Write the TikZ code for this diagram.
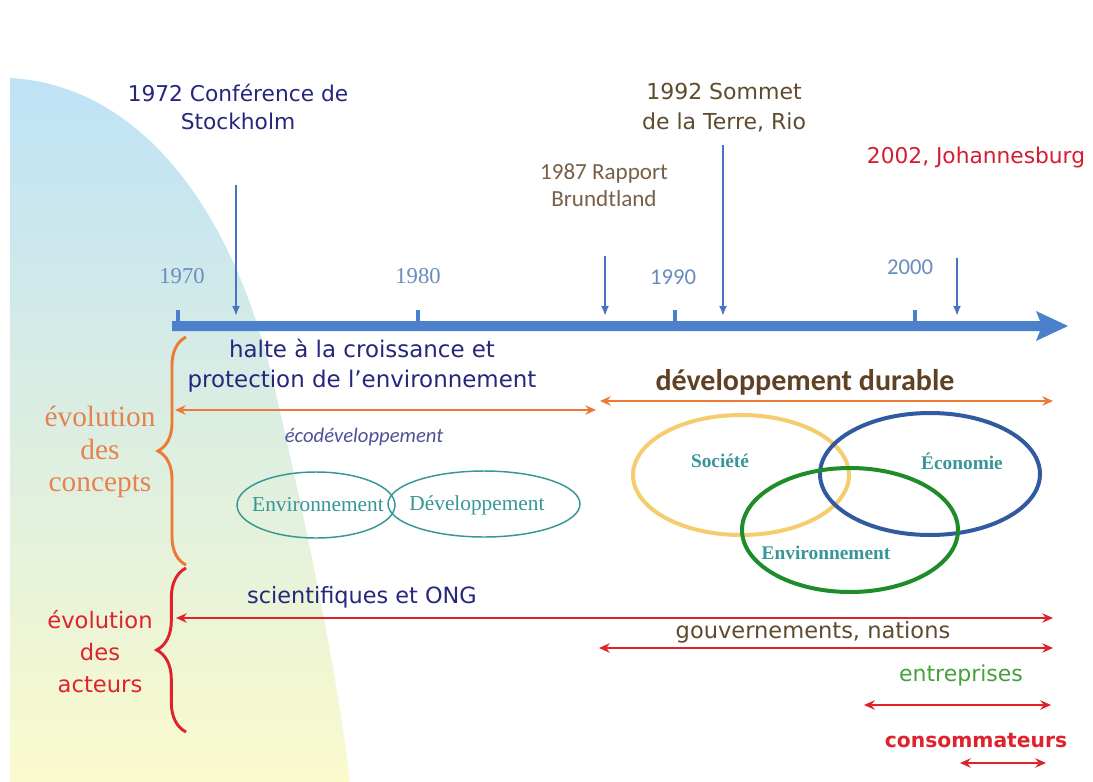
\documentclass[tikz,border=0pt]{standalone}
\usepackage{fontspec}
\setmainfont{DejaVu Sans}
\newfontfamily\seriff{Liberation Serif}
\newfontfamily\calib{Carlito}
\usetikzlibrary{arrows.meta,decorations.pathreplacing}

\definecolor{navy}{RGB}{38,38,125}
\definecolor{riobrown}{RGB}{95,75,45}
\definecolor{brbrown}{RGB}{120,95,72}
\definecolor{jored}{RGB}{215,28,50}
\definecolor{ticklbl}{RGB}{105,140,190}
\definecolor{axisblue}{RGB}{75,128,205}
\definecolor{evblue}{RGB}{70,115,195}
\definecolor{orangec}{RGB}{236,122,50}
\definecolor{orangetxt}{RGB}{230,130,80}
\definecolor{tealc}{RGB}{55,150,150}
\definecolor{ellyellow}{RGB}{245,205,110}
\definecolor{ellblue}{RGB}{50,90,160}
\definecolor{ellgreen}{RGB}{30,140,40}
\definecolor{redc}{RGB}{222,35,45}
\definecolor{ddbrown}{RGB}{95,65,35}
\definecolor{entgreen}{RGB}{70,160,60}
\definecolor{bgtop}{RGB}{190,226,246}
\definecolor{bgmid}{RGB}{222,241,230}
\definecolor{bgbot}{RGB}{250,250,205}

\tikzset{
  evarrow/.style={draw=evblue, line width=1.9pt, -{Latex[length=7.5pt,width=6pt]}},
  orangearrow/.style={draw=orangec, line width=1.9pt, {Stealth[length=8pt,width=7pt]}-{Stealth[length=8pt,width=7pt]}},
  redarrow/.style={draw=redc, line width=1.7pt, {Stealth[length=8pt,width=7pt]}-{Stealth[length=8pt,width=7pt]}},
  tickmark/.style={fill=axisblue},
  ticklabel/.style={text=ticklbl, inner sep=0pt},
  bracestyle/.style={line width=2.2pt, decorate},
  lbl/.style={inner sep=0pt, align=center},
  ellthin/.style={draw=tealc, line width=1.1pt},
  ellthick/.style={line width=3pt},
}

\begin{document}
\begin{tikzpicture}[x=0.75pt,y=-0.75pt]
  \useasboundingbox (0,0) rectangle (1093,782);
  \fill[white] (0,0) rectangle (1093,782);

  % soft backdrop on the left
  \shade[top color=bgtop, middle color=bgmid, bottom color=bgbot]
    (10,782) -- (10,78) .. controls (140,85) and (235,210) .. (275,390)
    .. controls (310,540) and (338,680) .. (350,782) -- cycle;

  % time axis
  \fill[axisblue] (172,321) -- (1040,321) -- (1036,311) -- (1068,326)
    -- (1036,341) -- (1040,331) -- (172,331) -- cycle;
  \foreach \name/\xx in {t70/178, t80/418, t90/675, t00/915} {
    \fill[tickmark] (\xx-2,310) rectangle (\xx+2,322);
    \coordinate (\name) at (\xx,310);
  }
  \node[ticklabel, font=\seriff\fontsize{17}{20}\selectfont] (l70) at (182,276) {1970};
  \node[ticklabel, font=\seriff\fontsize{17}{20}\selectfont] (l80) at (418,276) {1980};
  \node[ticklabel, font=\calib\fontsize{17}{20}\selectfont] (l90) at (673,277) {1990};
  \node[ticklabel, font=\calib\fontsize{17}{20}\selectfont] (l00) at (910,267) {2000};

  % events
  \node[lbl, text=navy, font=\fontsize{16.3}{21.5}\selectfont] (stock) at (238,107)
    {1972 Conférence de\\Stockholm};
  \node[lbl, text=riobrown, font=\fontsize{16.5}{22.5}\selectfont] (rio) at (724,108)
    {1992 Sommet\\de la Terre, Rio};
  \node[lbl, text=brbrown, font=\calib\fontsize{17.3}{20.5}\selectfont] (brundt) at (604,185)
    {1987 Rapport\\Brundtland};
  \node[lbl, text=jored, font=\fontsize{16.3}{20}\selectfont] (joh) at (976,158)
    {2002, Johannesburg};

  \coordinate (e72s) at (236,185);  \coordinate (e72e) at (236,316);
  \coordinate (e87s) at (605,256);  \coordinate (e87e) at (605,316);
  \coordinate (e92s) at (723,145);  \coordinate (e92e) at (723,316);
  \coordinate (e02s) at (957,258);  \coordinate (e02e) at (957,316);
  \draw[evarrow] (e72s) -- (e72e);
  \draw[evarrow] (e87s) -- (e87e);
  \draw[evarrow] (e92s) -- (e92e);
  \draw[evarrow] (e02s) -- (e02e);

  % concepts
  \node[lbl, text=orangetxt, font=\seriff\fontsize{22}{24.5}\selectfont] (evc) at (100,452)
    {évolution\\des\\concepts};
  \draw[orangec, bracestyle, decoration={brace, amplitude=21pt}] (186,565) -- (186,337);

  \node[lbl, text=navy, font=\fontsize{17.2}{22.5}\selectfont] (halte) at (362,366)
    {halte à la croissance et\\protection de l’environnement};
  \coordinate (c1a) at (175,410); \coordinate (c1b) at (596,410);
  \draw[orangearrow] (c1a) -- (c1b);
  \node[lbl, text=navy!80, font=\calib\itshape\fontsize{15.5}{16}\selectfont] (eco) at (364,437)
    {écodéveloppement};

  \draw[ellthin] (316,505) ellipse [x radius=79, y radius=33];
  \draw[ellthin] (484,504) ellipse [x radius=96, y radius=33];
  \node[lbl, text=tealc, font=\seriff\fontsize{16}{18}\selectfont] (envA) at (318,505) {Environnement};
  \node[lbl, text=tealc, font=\seriff\fontsize{16}{18}\selectfont] (devA) at (477,505) {Développement};

  \node[lbl, text=ddbrown, font=\calib\bfseries\fontsize{22.5}{24}\selectfont] (dd) at (805,382)
    {développement durable};
  \coordinate (c2a) at (600,401); \coordinate (c2b) at (1053,401);
  \draw[orangearrow] (c2a) -- (c2b);

  \draw[ellyellow, ellthick] (741,475) ellipse [x radius=108, y radius=60];
  \draw[ellblue, ellthick] (930,474) ellipse [x radius=110, y radius=61];
  \draw[ellgreen, ellthick] (850,530) ellipse [x radius=108, y radius=62];
  \node[lbl, text=tealc, font=\seriff\bfseries\fontsize{14.5}{16}\selectfont] (soc) at (720,461) {Société};
  \node[lbl, text=tealc, font=\seriff\bfseries\fontsize{14.5}{16}\selectfont] (econ) at (962,461) {Économie};
  \node[lbl, text=tealc, font=\seriff\bfseries\fontsize{14.5}{16}\selectfont] (envB) at (826,553) {Environnement};

  % actors
  \node[lbl, text=redc, font=\fontsize{17}{24}\selectfont] (eva) at (100,652)
    {évolution\\des\\acteurs};
  \draw[redc, bracestyle, decoration={brace, amplitude=22pt}] (186,732) -- (186,568);

  \node[lbl, text=navy, font=\fontsize{16.8}{18}\selectfont] (sci) at (362,597) {scientifiques et ONG};
  \coordinate (a1a) at (176,618); \coordinate (a1b) at (1053,618);
  \draw[redarrow] (a1a) -- (a1b);

  \node[lbl, text=riobrown, font=\fontsize{16.9}{18}\selectfont] (gouv) at (813,632) {gouvernements, nations};
  \coordinate (a2a) at (599,648); \coordinate (a2b) at (1053,648);
  \draw[redarrow] (a2a) -- (a2b);

  \node[lbl, text=entgreen, font=\fontsize{16.5}{18}\selectfont] (ent) at (961,675) {entreprises};
  \coordinate (a3a) at (864,705); \coordinate (a3b) at (1051,705);
  \draw[redarrow] (a3a) -- (a3b);

  \node[lbl, text=redc, font=\bfseries\fontsize{15.2}{18}\selectfont] (cons) at (976,741) {consommateurs};
  \coordinate (a4a) at (960,763); \coordinate (a4b) at (1046,763);
  \draw[redarrow] (a4a) -- (a4b);
\end{tikzpicture}
\end{document}
